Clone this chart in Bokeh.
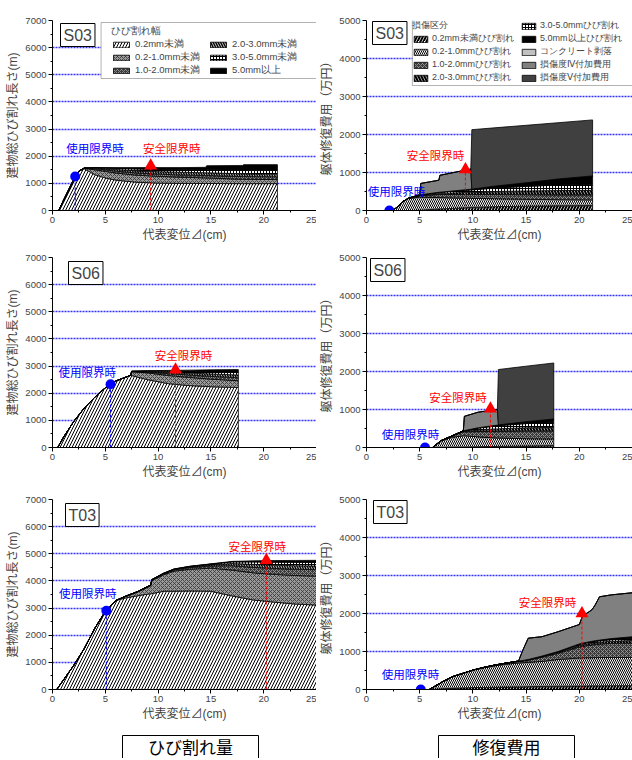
import numpy as np
from bokeh.plotting import figure
from bokeh.layouts import column, row
from bokeh.models import Range1d, FixedTicker, Label, Legend, LegendItem, BoxAnnotation
from bokeh.core.properties import value
from bokeh.embed import file_html
from bokeh.resources import INLINE

MIX = "Liberation Sans, Noto Sans CJK JP"
NUM = "Liberation Sans"

# ------------------------------------------------------------------ texts
X_TITLE = "代表変位⊿(cm)"
LEN_TITLE = "建物総ひび割れ長さ(m)"
COST_TITLE = "躯体修復費用（万円）"
LEN_LEGEND_TITLE = "ひび割れ幅"
COST_LEGEND_TITLE = "損傷区分"
LIMIT_NAMES = ["使用限界時", "安全限界時"]
CAPTIONS = ["ひび割れ量", "修復費用"]

X_TICKS = [0, 5, 10, 15, 20, 25]
X_MINOR = [2.5, 7.5, 12.5, 17.5, 22.5]
LEN_TICKS = [0, 1000, 2000, 3000, 4000, 5000, 6000, 7000]
COST_TICKS = [0, 1000, 2000, 3000, 4000, 5000]

LEN_LABELS = ["0.2mm未満", "0.2-1.0mm未満", "1.0-2.0mm未満",
              "2.0-3.0mm未満", "3.0-5.0mm未満", "5.0mm以上"]
COST_LABELS = ["0.2mm未満ひび割れ", "0.2-1.0mmひび割れ", "1.0-2.0mmひび割れ",
               "2.0-3.0mmひび割れ", "3.0-5.0mmひび割れ", "5.0mm以上ひび割れ",
               "コンクリート剥落", "損傷度Ⅳ付加費用", "損傷度Ⅴ付加費用"]

# ------------------------------------------------------------------ crack length (m)
S03_LEN_X = [0.6, 1.0, 1.5, 2.0, 2.5, 3.0, 4.0, 5.0, 6.0, 8.0, 10.0, 12.0, 14.5, 14.6, 18.0, 18.1, 21.3]
S03_LEN_LAYERS = [
    [0, 340, 735, 1130, 1450, 1540, 1320, 1200, 1120, 1040, 1010, 1000, 995, 995, 990, 990, 990],
    [0, 0, 0, 0, 0, 20, 180, 240, 260, 260, 250, 230, 205, 205, 160, 160, 150],
    [0, 0, 0, 0, 0, 3, 40, 60, 70, 80, 80, 80, 90, 90, 100, 100, 100],
    [0, 0, 0, 0, 0, 2, 20, 40, 60, 80, 90, 100, 100, 100, 100, 100, 100],
    [0, 0, 0, 0, 0, 0, 15, 25, 40, 70, 80, 90, 100, 110, 130, 140, 140],
    [0, 0, 0, 0, 0, 0, 5, 15, 30, 50, 70, 80, 100, 150, 180, 200, 210],
]
S06_LEN_X = [0.5, 1.0, 2.0, 3.0, 4.0, 5.0, 6.0, 7.0, 7.4, 7.5, 9.0, 11.0, 13.0, 15.0, 17.6]
S06_LEN_LAYERS = [
    [0, 350, 950, 1450, 1850, 2200, 2450, 2600, 2660, 2650, 2500, 2350, 2280, 2240, 2210],
    [0, 0, 0, 0, 0, 0, 0, 0, 0, 140, 250, 300, 300, 280, 250],
    [0, 0, 0, 0, 0, 0, 0, 0, 0, 10, 30, 70, 90, 100, 110],
    [0, 0, 0, 0, 0, 0, 0, 0, 0, 5, 20, 50, 70, 90, 100],
    [0, 0, 0, 0, 0, 0, 0, 0, 0, 5, 20, 40, 60, 70, 90],
    [0, 0, 0, 0, 0, 0, 0, 0, 0, 0, 10, 30, 50, 80, 110],
]
T03_LEN_X = [0.4, 1.0, 2.0, 3.0, 4.0, 5.0, 6.0, 7.0, 8.0, 9.3, 9.4, 10.5, 11.5, 13.0, 15.0, 17.0, 19.0, 21.0, 23.0, 25.5]
T03_LEN_LAYERS = [
    [0, 330, 880, 1500, 2250, 2880, 3280, 3380, 3450, 3530, 3530, 3620, 3620, 3630, 3620, 3450, 3300, 3220, 3150, 3100],
    [0, 0, 0, 0, 0, 0, 0, 60, 130, 290, 480, 600, 740, 800, 850, 950, 1000, 1020, 1050, 1070],
    [0, 0, 0, 0, 0, 0, 0, 10, 15, 20, 25, 35, 45, 60, 80, 160, 200, 220, 230, 240],
    [0, 0, 0, 0, 0, 0, 0, 0, 5, 10, 10, 15, 20, 30, 45, 80, 110, 120, 130, 135],
    [0, 0, 0, 0, 0, 0, 0, 0, 0, 0, 5, 10, 10, 15, 25, 60, 90, 110, 125, 135],
    [0, 0, 0, 0, 0, 0, 0, 0, 0, 0, 0, 0, 5, 5, 10, 20, 40, 60, 70, 80],
]

# ------------------------------------------------------------------ repair cost (万円)
S03_COST_X = [0, 2.5, 3.0, 3.5, 4.0, 5.0, 5.1, 6.8, 6.9, 9.8, 9.9, 12.0, 15.0, 18.0, 21.25]
S03_COST_LAYERS = [
    [0, 0, 0, 0, 0, 10, 10, 40, 40, 80, 80, 100, 115, 125, 130],
    [0, 0, 120, 250, 320, 340, 340, 300, 300, 240, 240, 210, 180, 160, 150],
    [0, 0, 0, 0, 10, 40, 42, 80, 80, 100, 100, 110, 120, 125, 130],
    [0, 0, 0, 0, 0, 10, 10, 30, 30, 60, 60, 80, 100, 115, 120],
    [0, 0, 0, 0, 0, 10, 13, 30, 32, 60, 62, 90, 120, 145, 160],
    [0, 0, 0, 0, 0, 0, 0, 0, 0, 20, 20, 50, 95, 160, 220],
    [0, 0, 0, 0, 0, 0, 0, 0, 0, 0, 0, 0, 0, 0, 0],
    [0, 0, 0, 0, 0, 0, 297, 317, 444, 530, 0, 0, 0, 0, 0],
    [0, 0, 0, 0, 0, 0, 0, 0, 0, 0, 1565, 1535, 1512, 1480, 1474],
]
S06_COST_X = [0, 6.2, 7.0, 8.0, 9.1, 9.2, 10.5, 12.3, 12.4, 15.0, 17.6]
S06_COST_LAYERS = [
    [0, 0, 0, 5, 10, 10, 20, 30, 30, 40, 50],
    [0, 0, 170, 260, 300, 300, 260, 220, 220, 190, 173],
    [0, 0, 10, 35, 100, 104, 140, 170, 172, 200, 207],
    [0, 0, 0, 0, 20, 20, 50, 70, 70, 90, 100],
    [0, 0, 0, 0, 10, 12, 40, 80, 82, 110, 120],
    [0, 0, 0, 0, 0, 0, 10, 20, 21, 50, 100],
    [0, 0, 0, 0, 0, 0, 0, 0, 0, 0, 0],
    [0, 0, 0, 0, 0, 374, 410, 410, 0, 0, 0],
    [0, 0, 0, 0, 0, 0, 0, 0, 1457, 1460, 1474],
]
T03_COST_X = [0, 5.9, 7.0, 8.0, 9.0, 10.0, 11.0, 12.0, 13.0, 14.3, 14.4, 14.7, 15.2, 16.5, 18.0, 20.0, 20.3, 21.2, 21.5, 21.9, 23.0, 25.5]
T03_COST_LAYERS = [
    [0, 0, 20, 30, 40, 50, 55, 60, 65, 70, 70, 70, 75, 80, 85, 90, 90, 95, 95, 95, 100, 100],
    [0, 0, 160, 300, 380, 455, 515, 560, 595, 630, 630, 635, 640, 660, 705, 740, 742, 741, 743, 745, 742, 745],
    [0, 0, 0, 0, 0, 5, 8, 16, 24, 40, 42, 47, 55, 110, 160, 290, 303, 339, 347, 355, 373, 380],
    [0, 0, 0, 0, 0, 0, 2, 3, 4, 6, 6, 7, 10, 15, 25, 40, 42, 45, 48, 50, 55, 70],
    [0, 0, 0, 0, 0, 0, 0, 1, 2, 3, 3, 4, 7, 10, 15, 25, 27, 30, 32, 35, 40, 55],
    [0, 0, 0, 0, 0, 0, 0, 0, 0, 1, 1, 2, 3, 5, 10, 15, 16, 20, 20, 20, 30, 50],
    [0, 0, 0, 0, 0, 0, 0, 0, 0, 0, 0, 0, 0, 0, 0, 0, 0, 0, 0, 0, 0, 0],
    [0, 0, 0, 0, 0, 0, 0, 0, 0, 0, 78, 275, 560, 510, 520, 510, 710, 830, 945, 1140, 1150, 1160],
    [0, 0, 0, 0, 0, 0, 0, 0, 0, 0, 0, 0, 0, 0, 0, 0, 0, 0, 0, 0, 0, 0],
]

# ------------------------------------------------------------------ limit states
S03_LIMIT_X = [2.15, 9.3]
S03_LEN_LIMIT_Y = [1250, 1650]
S03_COST_LIMIT_Y = [0, 1080]
S06_LIMIT_X = [5.5, 11.65]
S06_LEN_LIMIT_Y = [2330, 2860]
S06_COST_LIMIT_Y = [0, 1020]
T03_LIMIT_X = [5.1, 20.25]
T03_LEN_LIMIT_Y = [2900, 4760]
T03_COST_LIMIT_Y = [0, 2000]

# ------------------------------------------------------------------ styles
LEN_STYLES = [
    dict(fill_color="white", hatch_pattern="/", hatch_color="black", hatch_scale=6, hatch_weight=1),
    dict(fill_color="#9a9a9a", hatch_pattern="x", hatch_color="#333333", hatch_scale=4, hatch_weight=0.8),
    dict(fill_color="#3a3a3a", hatch_pattern="x", hatch_color="#a0a0a0", hatch_scale=4, hatch_weight=0.8),
    dict(fill_color="#bdbdbd", hatch_pattern="\\", hatch_color="black", hatch_scale=5, hatch_weight=1.3),
    dict(fill_color="white", hatch_pattern="+", hatch_color="black", hatch_scale=3, hatch_weight=1),
    dict(fill_color="black"),
]
COST_STYLES = [
    dict(fill_color="white", hatch_pattern="/", hatch_color="black", hatch_scale=6, hatch_weight=2),
    dict(fill_color="white", hatch_pattern="\\", hatch_color="black", hatch_scale=4, hatch_weight=1),
    dict(fill_color="#3a3a3a", hatch_pattern="x", hatch_color="#a0a0a0", hatch_scale=4, hatch_weight=0.8),
    dict(fill_color="#c8c8c8", hatch_pattern="\\", hatch_color="black", hatch_scale=6, hatch_weight=2),
    dict(fill_color="white", hatch_pattern="+", hatch_color="black", hatch_scale=3, hatch_weight=1),
    dict(fill_color="black"),
    dict(fill_color="#c0c0c0"),
    dict(fill_color="#808080"),
    dict(fill_color="#404040"),
]

BLUE = "#0000ff"
RED = "#ff0000"
MB_BOTTOM = 34


def style_axis(ax):
    ax.major_label_text_font = NUM
    ax.major_label_text_font_size = "9.5px"
    ax.major_tick_out = 4
    ax.major_tick_in = 0
    ax.minor_tick_out = 2
    ax.minor_tick_in = 0
    ax.major_label_standoff = 2
    ax.axis_label_standoff = 2
    ax.axis_label_text_font = MIX
    ax.axis_label_text_font_size = "12px"
    ax.axis_label_text_font_style = "normal"
    ax.axis_line_color = "black"
    ax.major_tick_line_color = "black"
    ax.minor_tick_line_color = "black"


def split_legend(p, rends, labels, n_first, title, vx_a, vx_b, vy, pad,
                 glyph_w, glyph_h, lab_h, box, font_size, standoff):
    """Two-column legend: first column carries the title, boxed together."""
    p.add_layout(BoxAnnotation(left=box[0], right=box[1], top=box[2], bottom=box[3],
                               fill_color="white", fill_alpha=1,
                               line_color="black", line_width=1))
    common = dict(label_text_font=NUM, label_text_font_size=font_size,
                  glyph_width=glyph_w, glyph_height=glyph_h, label_height=lab_h,
                  label_standoff=standoff, spacing=0, padding=pad, margin=0,
                  border_line_color=None, background_fill_alpha=0)
    items_a = [LegendItem(label=l, renderers=[r]) for l, r in zip(labels[:n_first], rends[:n_first])]
    items_b = [LegendItem(label=l, renderers=[r]) for l, r in zip(labels[n_first:], rends[n_first:])]
    leg_a = Legend(items=items_a, title=title, location=(vx_a, vy),
                   title_text_font=NUM, title_text_font_size=font_size,
                   title_text_font_style="normal", title_standoff=0, **common)
    leg_b = Legend(items=items_b, location=(vx_b, vy), **common)
    p.add_layout(leg_a)
    p.add_layout(leg_b)


def make_panel(kind, name, xs, layers, lim_x, lim_y, txt_pos, height, mb_top,
               name_off, legend=False):
    is_len = kind == "len"
    ymax = 7000 if is_len else 5000
    ticks = LEN_TICKS if is_len else COST_TICKS
    p = figure(width=316, height=height,
               x_range=Range1d(0, 25), y_range=Range1d(0, ymax),
               output_backend="svg", toolbar_location=None,
               min_border_left=52 if is_len else 50,
               min_border_right=0,
               min_border_top=mb_top, min_border_bottom=MB_BOTTOM)
    p.outline_line_color = None
    p.background_fill_color = "white"
    p.border_fill_color = "white"
    p.xaxis.ticker = FixedTicker(ticks=X_TICKS, minor_ticks=X_MINOR)
    p.yaxis.ticker = FixedTicker(ticks=ticks,
                                 minor_ticks=[t + 500 for t in ticks[:-1]])
    style_axis(p.xaxis[0])
    style_axis(p.yaxis[0])
    p.xaxis.axis_label = X_TITLE
    p.yaxis.axis_label = LEN_TITLE if is_len else COST_TITLE
    p.xgrid.visible = False
    p.ygrid.ticker = FixedTicker(ticks=ticks[1:-1])
    p.ygrid.grid_line_color = "#3333ff"
    p.ygrid.grid_line_dash = "2 1"
    p.ygrid.grid_line_width = 1.4

    styles = LEN_STYLES if is_len else COST_STYLES
    x = np.asarray(xs, dtype=float)
    base = np.zeros_like(x)
    rends = []
    for vals, st in zip(layers, styles):
        top = base + np.asarray(vals, dtype=float)
        px = np.concatenate([x, x[::-1]])
        py = np.concatenate([top, base[::-1]])
        r = p.patch(px, py, line_color="black", line_width=0.8, **st)
        rends.append(r)
        base = top

    # limit-state markers
    for (lx, ly, col, mk, sz) in [(lim_x[0], lim_y[0], BLUE, "circle", 10),
                                  (lim_x[1], lim_y[1], RED, "triangle", 13)]:
        if ly > 0:
            p.segment(x0=[lx], y0=[0], x1=[lx], y1=[ly], line_color=col,
                      line_dash="3 2", line_width=1)
        p.scatter([lx], [ly], marker=mk, size=sz, fill_color=col, line_color=None)
    for (tx, ty), txt, col in zip(txt_pos, LIMIT_NAMES, [BLUE, RED]):
        p.add_layout(Label(x=tx, y=ty, text=txt, text_color=col, text_font=MIX,
                           text_font_size="11.5px", text_align="center",
                           text_baseline="middle"))

    fh = height - mb_top - MB_BOTTOM
    p.add_layout(Label(x=name_off[0], y=fh - name_off[1], x_units="screen",
                       y_units="screen", text=name, text_font=NUM,
                       text_font_size="16px", text_align="left",
                       text_baseline="top", border_line_color="black",
                       border_line_width=1, background_fill_color="white",
                       padding=3))

    if legend and is_len:
        split_legend(p, rends, LEN_LABELS, 3, LEN_LEGEND_TITLE,
                     vx_a=59, vx_b=156, vy=133, pad=4,
                     glyph_w=20, glyph_h=7, lab_h=12,
                     box=(4.6, 26, 6926, 4863), font_size="9.5px", standoff=4)
    elif legend:
        split_legend(p, rends, COST_LABELS, 4, COST_LEGEND_TITLE,
                     vx_a=46, vx_b=154, vy=126, pad=2,
                     glyph_w=17, glyph_h=8, lab_h=11,
                     box=(4.31, 26, 5079, 3289), font_size="9px", standoff=3)
    return p


f1 = make_panel("len", "S03", S03_LEN_X, S03_LEN_LAYERS, S03_LIMIT_X, S03_LEN_LIMIT_Y,
                [(4.03, 2255), (11.3, 2255)], 244, 20, (8, 3), legend=True)
f2 = make_panel("cost", "S03", S03_COST_X, S03_COST_LAYERS, S03_LIMIT_X, S03_COST_LIMIT_Y,
                [(2.83, 481), (6.48, 1423)], 244, 20, (6, 1), legend=True)
f3 = make_panel("len", "S06", S06_LEN_X, S06_LEN_LAYERS, S06_LIMIT_X, S06_LEN_LIMIT_Y,
                [(3.3, 2756), (12.4, 3355)], 237, 13, (16, 4))
f4 = make_panel("cost", "S06", S06_COST_X, S06_COST_LAYERS, S06_LIMIT_X, S06_COST_LIMIT_Y,
                [(4.14, 335), (8.6, 1304)], 237, 13, (4, 1))
f5 = make_panel("len", "T03", T03_LEN_X, T03_LEN_LAYERS, T03_LIMIT_X, T03_LEN_LIMIT_Y,
                [(3.33, 3524), (19.4, 5244)], 242, 18, (13, 4))
f6 = make_panel("cost", "T03", T03_COST_X, T03_COST_LAYERS, T03_LIMIT_X, T03_COST_LIMIT_Y,
                [(4.13, 369), (17.0, 2277)], 242, 18, (7, 1))

fb = figure(width=632, height=35, x_range=Range1d(0, 632), y_range=Range1d(0, 35),
            output_backend="svg", toolbar_location=None, min_border=0,
            x_axis_location=None, y_axis_location=None)
fb.grid.visible = False
fb.outline_line_color = None
fb.quad(left=[122, 438], right=[258, 574], top=[23, 23], bottom=[-6, -6],
        fill_color="white", line_color="black", line_width=1)
fb.text(x=[190, 506], y=[10, 10], text=CAPTIONS, text_align="center",
        text_baseline="middle", text_font=value(MIX), text_font_size="17px",
        text_color="black")

layout = column(row(f1, f2), row(f3, f4), row(f5, f6), fb)
open("out.html", "w").write(file_html(layout, INLINE))
